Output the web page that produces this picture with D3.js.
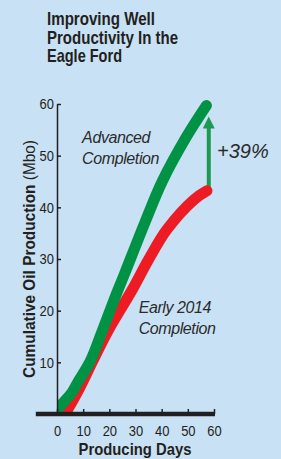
<!DOCTYPE html>
<html>
<head>
<meta charset="utf-8">
<script src="https://cdn.jsdelivr.net/npm/d3@7"></script>
<style>
  html, body { margin: 0; padding: 0; background: #c9e1f4; }
  svg { display: block; }
  .narrow { font-family: "Liberation Sans", Arial, sans-serif; }
  .note { font-family: "Liberation Sans", Arial, sans-serif; font-style: italic; fill: #2b2b2b; }
</style>
</head>
<body>
<div id="chart"></div>
<script>
// cumulative oil production (Mbo) vs producing days
var advancedDays = [0.6, 2.9, 5.6, 8.0, 12.7, 17.1, 21.9, 25.7, 33.7, 40.2, 49.3, 57.1];
var advancedMbo  = [1.2, 2.5, 4.1, 6.2, 10.2, 15.8, 22.2, 27.0, 37.2, 45.0, 53.5, 59.7];

var earlyDays = [4.0, 8.6, 13.6, 19.8, 28.8, 35.0, 42.0, 52.4, 57.3];
var earlyMbo  = [0.8, 5.0, 10.2, 16.4, 24.1, 29.9, 35.7, 41.5, 43.2];

var xTicks = [0, 10, 20, 30, 40, 50, 60];
var yTicks = [10, 20, 30, 40, 50, 60];

var titleLines = ["Improving Well", "Productivity In the", "Eagle Ford"];
var titleWidths = [108, 131, 75];
var upliftLabel = "+39%";
var upliftFrom = 43.2;   // Mbo, end of early 2014 curve
var upliftTo = 57.6;     // Mbo, arrow tip
var upliftDay = 58;

function drawChart() {
    var w = 281;
    var h = 459;
    var ink = "#231f20";

    var xScale = d3.scaleLinear().domain([0, 60]).range([57, 214]);
    var yScale = d3.scaleLinear().domain([0, 60]).range([414, 104]);

    var svg = d3.select("#chart").append("svg")
        .attr("width", w)
        .attr("height", h);

    svg.append("rect")
        .attr("width", w).attr("height", h)
        .attr("fill", "#c9e1f4");

    /* TITLE - the original face is condensed, so squeeze to the measured widths */
    svg.selectAll(".title")
        .data(titleLines)
        .enter()
        .append("text")
        .attr("class", "title narrow")
        .attr("x", 47)
        .attr("y", (d, i) => 25 + i * 18.5)
        .attr("textLength", (d, i) => titleWidths[i])
        .attr("lengthAdjust", "spacingAndGlyphs")
        .style("font-size", "17.8px")
        .style("font-weight", "bold")
        .style("fill", ink)
        .text(d => d);

    /* CURVES */
    svg.append("clipPath")
        .attr("id", "plotclip")
        .append("rect")
        .attr("x", xScale(0))
        .attr("y", 0)
        .attr("width", w)
        .attr("height", yScale(0) - 2);

    var line = d3.line()
        .x(d => xScale(d[0]))
        .y(d => yScale(d[1]))
        .curve(d3.curveCatmullRom.alpha(0.5));

    var early = d3.zip(earlyDays, earlyMbo);
    var advanced = d3.zip(advancedDays, advancedMbo);

    // uplift arrow (sits under the red end cap)
    svg.append("defs").append("marker")
        .attr("id", "head")
        .attr("viewBox", "0 0 10 10")
        .attr("refX", 5).attr("refY", 5)
        .attr("markerWidth", 3.3).attr("markerHeight", 3)
        .attr("markerUnits", "strokeWidth")
        .attr("orient", "auto")
        .append("path")
        .attr("d", "M0,0 L10,5 L0,10 Z")
        .attr("fill", "#1d9a52");

    svg.append("line")
        .attr("x1", xScale(upliftDay))
        .attr("x2", xScale(upliftDay))
        .attr("y1", yScale(upliftFrom))
        .attr("y2", yScale(upliftTo) + 6)
        .attr("stroke", "#1d9a52")
        .attr("stroke-width", 4)
        .attr("marker-end", "url(#head)");

    svg.append("g")
        .attr("clip-path", "url(#plotclip)")
        .selectAll("path")
        .data([{pts: early, color: "#ed1c24"}, {pts: advanced, color: "#009245"}])
        .enter()
        .append("path")
        .attr("d", d => line(d.pts))
        .attr("fill", "none")
        .attr("stroke", d => d.color)
        .attr("stroke-width", 11)
        .attr("stroke-linecap", "round")
        .attr("stroke-linejoin", "round");

    /* AXES */
    var xAxis = d3.axisBottom(xScale)
        .tickValues(xTicks)
        .tickSizeInner(-5)
        .tickSizeOuter(0)
        .tickPadding(11);

    var yAxis = d3.axisLeft(yScale)
        .tickValues(yTicks)
        .tickSizeInner(-4)
        .tickSizeOuter(0)
        .tickPadding(3);

    var gx = svg.append("g")
        .attr("transform", "translate(0," + yScale(0) + ")")
        .call(xAxis);
    gx.select(".domain").remove();

    var gy = svg.append("g")
        .attr("transform", "translate(" + xScale(0) + ",0)")
        .call(yAxis);

    [gx, gy].forEach(function (g) {
        g.selectAll("line").attr("stroke", ink).attr("stroke-width", 1.5);
        g.selectAll(".domain").attr("stroke", ink).attr("stroke-width", 1.5);
        g.selectAll("text")
            .attr("class", "narrow")
            .attr("textLength", d => String(d).length * 7.2)
            .attr("lengthAdjust", "spacingAndGlyphs")
            .style("font-size", "15.5px")
            .style("fill", ink);
    });

    // heavy baseline under the plot
    svg.append("line")
        .attr("x1", xScale(-8.1))
        .attr("x2", xScale(60) + 1)
        .attr("y1", yScale(0))
        .attr("y2", yScale(0))
        .attr("stroke", ink)
        .attr("stroke-width", 4.5);

    /* AXIS TITLES */
    svg.append("text")
        .attr("class", "narrow")
        .attr("x", 135)
        .attr("y", 455)
        .attr("textLength", 113)
        .attr("lengthAdjust", "spacingAndGlyphs")
        .style("text-anchor", "middle")
        .style("font-size", "16.5px")
        .style("font-weight", "bold")
        .style("fill", ink)
        .text("Producing Days");

    var yTitle = svg.append("text")
        .attr("class", "narrow")
        .attr("transform", "translate(34.5,259) rotate(-90)")
        .attr("textLength", 238)
        .attr("lengthAdjust", "spacingAndGlyphs")
        .style("text-anchor", "middle")
        .style("font-size", "16.5px")
        .style("fill", ink);
    yTitle.append("tspan").style("font-weight", "bold").text("Cumulative Oil Production");
    yTitle.append("tspan").text(" (Mbo)");

    /* ANNOTATIONS */
    var notes = [
        {lines: ["Advanced", "Completion"], day: 9.6, mbo: 52.5},
        {lines: ["Early 2014", "Completion"], day: 31.2, mbo: 19.6}
    ];
    notes.forEach(function (n) {
        svg.append("text")
            .attr("class", "note")
            .attr("x", xScale(n.day))
            .attr("y", yScale(n.mbo))
            .style("font-size", "16px")
            .style("letter-spacing", "-0.4px")
            .selectAll("tspan")
            .data(n.lines)
            .enter()
            .append("tspan")
            .attr("x", xScale(n.day))
            .attr("dy", (d, i) => i === 0 ? 0 : 21)
            .text(d => d);
    });

    svg.append("text")
        .attr("class", "note")
        .attr("x", 217)
        .attr("y", 158)
        .style("font-size", "20px")
        .text(upliftLabel);
}

function main() {
    drawChart();
}

main()
</script>
</body>
</html>
